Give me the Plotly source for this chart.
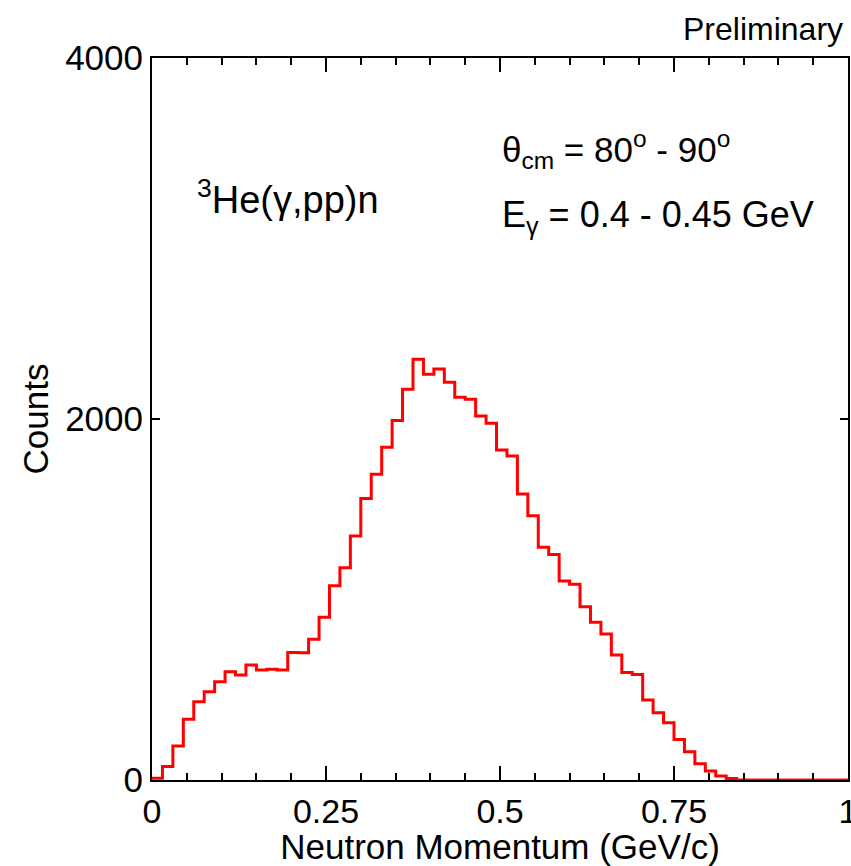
import plotly.graph_objects as go

# Histogram data: neutron momentum bins (width 0.015 GeV/c starting at 0)
bin_width = 0.015
counts = [10, 75, 188, 336, 434, 489, 545, 600, 582, 637,
          610, 613, 610, 707, 705, 780, 901, 1076, 1176, 1352,
          1560, 1694, 1843, 1991, 2165, 2331, 2248, 2277, 2203, 2120,
          2109, 2017, 1976, 1828, 1795, 1584, 1464, 1289, 1250, 1102,
          1084, 960, 874, 809, 692, 596, 585, 443, 373, 317,
          224, 157, 90, 50, 22, 8, 0, 0, 0, 0,
          0, 0, 0, 0, 0, 0, 0]
x_ticks = [0, 0.25, 0.5, 0.75, 1]
x_tick_labels = ["0", "0.25", "0.5", "0.75", "1"]
y_ticks = [0, 2000, 4000]
y_tick_labels = ["0", "2000", "4000"]

edges = [i * bin_width for i in range(len(counts) + 1)]
ys = counts + [counts[-1]]

FONT = "Liberation Sans, Arial, Helvetica, sans-serif"

fig = go.Figure()
fig.add_trace(go.Scatter(
    x=edges, y=ys, mode="lines", line=dict(color="#ff0000", width=3, shape="hv"),
    showlegend=False, hoverinfo="skip"))

fig.update_layout(
    width=851, height=866,
    margin=dict(l=152, r=3, t=58, b=86),
    paper_bgcolor="white", plot_bgcolor="white",
    font=dict(family=FONT, size=34, color="black"),
    xaxis=dict(range=[0, 1], tickvals=x_ticks, ticktext=x_tick_labels,
               ticks="inside", ticklen=14, tickwidth=2, tickcolor="black",
               showline=True, linecolor="black", linewidth=2, mirror="ticks",
               showgrid=False, zeroline=False, ticklabeloverflow="allow",
               automargin=False,
               minor=dict(dtick=0.05, ticks="inside", ticklen=7, tickwidth=2,
                          tickcolor="black", showgrid=False),
               tickfont=dict(size=34),
               title=dict(text="Neutron Momentum (GeV/c)", font=dict(size=35), standoff=0)),
    yaxis=dict(range=[0, 4000], tickvals=y_ticks, ticktext=y_tick_labels,
               ticks="inside", ticklen=8, tickwidth=2, tickcolor="black",
               showline=True, linecolor="black", linewidth=2, mirror="ticks",
               showgrid=False, zeroline=False, automargin=False,
               tickfont=dict(size=35),
               title=dict(text="Counts", font=dict(size=35), standoff=6)),
)

fig.add_annotation(xref="paper", yref="paper", x=0.996, y=1.04, xanchor="right", yanchor="middle",
                   text="Preliminary", showarrow=False, font=dict(size=32))
fig.add_annotation(xref="paper", yref="paper", x=0.062, y=0.807, xanchor="left", yanchor="middle",
                   text="<sup>3</sup>He(γ,pp)n", showarrow=False, font=dict(size=38))
fig.add_annotation(xref="paper", yref="paper", x=0.5, y=0.873, xanchor="left", yanchor="middle",
                   text="θ<sub>cm</sub> = 80<sup>o</sup> - 90<sup>o</sup>", showarrow=False, font=dict(size=35))
fig.add_annotation(xref="paper", yref="paper", x=0.5, y=0.78, xanchor="left", yanchor="middle",
                   text="E<sub>γ</sub> = 0.4 - 0.45 GeV", showarrow=False, font=dict(size=36))

fig.write_html("out.html")
